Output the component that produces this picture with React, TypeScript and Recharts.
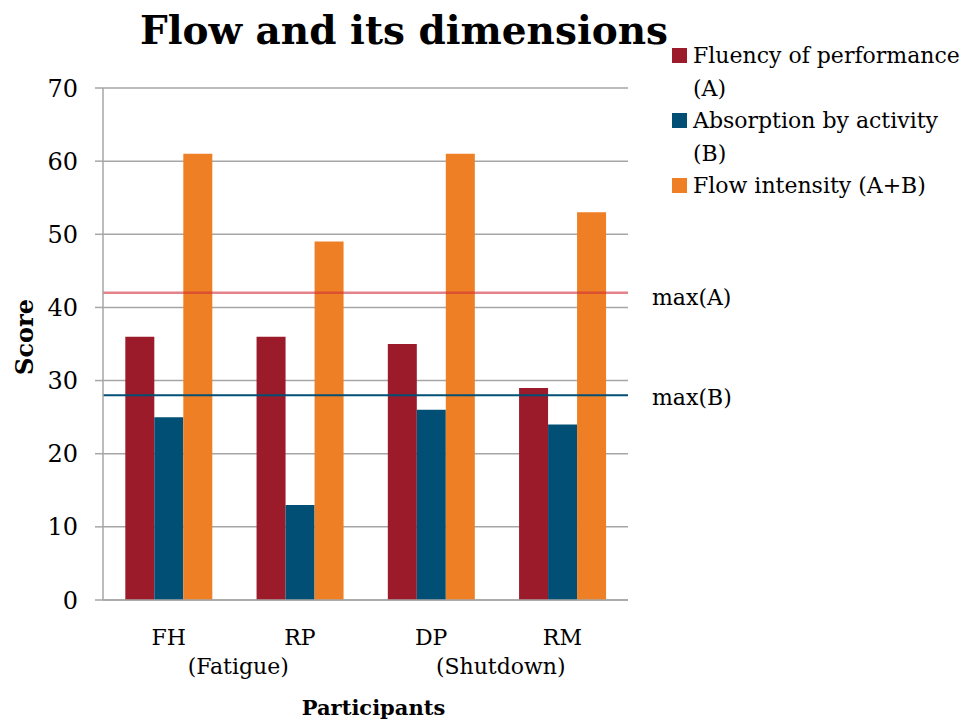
import React from 'react';
import { BarChart, Bar, XAxis, YAxis, CartesianGrid, ReferenceLine } from 'recharts';

const categories = ['FH', 'RP', 'DP', 'RM'];
const subLabels = ['(Fatigue)', '', '(Shutdown)', ''];
const fluency = [36, 36, 35, 29];
const absorption = [25, 13, 26, 24];
const flowIntensity = [61, 49, 61, 53];
const yTicks = [0, 10, 20, 30, 40, 50, 60, 70];
const maxA = 42;
const maxB = 28;

const seriesNames = ['Fluency of performance (A)', 'Absorption by activity (B)', 'Flow intensity (A+B)'];
const legendLines = [
  ['Fluency of performance', '(A)'],
  ['Absorption by activity', '(B)'],
  ['Flow intensity (A+B)'],
];
const colors = ['#9B1B2A', '#024F75', '#EE7F24'];

const data = categories.map((c, i) => ({
  name: c,
  sub: subLabels[i],
  A: fluency[i],
  B: absorption[i],
  AB: flowIntensity[i],
}));

const FONT = '"DejaVu Serif", serif';
const W = 965;
const H = 724;
const LEFT = 103;
const RIGHT = 628;
const HALF_BAND = (RIGHT - LEFT) / categories.length / 2;

const XTick = (props: any) => {
  const { x, y, payload, index } = props;
  const sub = subLabels[index];
  return (
    <g>
      <text x={x} y={y + 37} textAnchor="middle" fontFamily={FONT} fontSize={22} fill="#000">
        {payload.value}
      </text>
      {sub ? (
        <text x={x + HALF_BAND + 4} y={y + 66} textAnchor="middle" fontFamily={FONT} fontSize={22} fill="#000">
          {sub}
        </text>
      ) : null}
    </g>
  );
};

export default function App() {
  return (
    <div style={{ position: 'absolute', left: 0, top: 0, width: W, height: H, background: '#fff' }}>
      <div
        style={{
          position: 'absolute',
          left: 0,
          top: 5,
          width: 808,
          textAlign: 'center',
          fontFamily: FONT,
          fontWeight: 'bold',
          fontSize: 39,
          lineHeight: '50px',
          color: '#000',
        }}
      >
        Flow and its dimensions
      </div>
      <BarChart
        width={W}
        height={H}
        data={data}
        margin={{ top: 88, right: W - RIGHT, bottom: 0, left: 0 }}
        barCategoryGap="17%"
        barGap={0}
      >
        <CartesianGrid vertical={false} stroke="#A6A6A6" strokeWidth={1.5} />
        <XAxis
          dataKey="name"
          height={124}
          tickLine={false}
          axisLine={{ stroke: '#A6A6A6', strokeWidth: 1.5 }}
          tick={<XTick />}
          interval={0}
          label={({ viewBox }: any) => (
            <text
              x={viewBox.x + viewBox.width / 2 + 8}
              y={715}
              textAnchor="middle"
              fontFamily={FONT}
              fontWeight="bold"
              fontSize={21}
              fill="#000"
            >
              Participants
            </text>
          )}
        />
        <YAxis
          width={LEFT}
          domain={[0, 70]}
          ticks={yTicks}
          interval={0}
          tickSize={8}
          tickMargin={17}
          tickLine={{ stroke: '#A6A6A6', strokeWidth: 1.5 }}
          axisLine={{ stroke: '#A6A6A6', strokeWidth: 1.5 }}
          tick={{ fontFamily: FONT, fontSize: 24, fill: '#000' }}
          label={() => (
            <text
              x={24}
              y={337}
              transform="rotate(-90 24 337)"
              textAnchor="middle"
              dominantBaseline="central"
              fontFamily={FONT}
              fontWeight="bold"
              fontSize={24}
              fill="#000"
            >
              Score
            </text>
          )}
        />
        <Bar dataKey="A" name={seriesNames[0]} fill={colors[0]} isAnimationActive={false} />
        <Bar dataKey="B" name={seriesNames[1]} fill={colors[1]} isAnimationActive={false} />
        <Bar dataKey="AB" name={seriesNames[2]} fill={colors[2]} isAnimationActive={false} />
        <ReferenceLine
          y={maxA}
          stroke="#D0303C"
          strokeOpacity={0.6}
          strokeWidth={2.5}
          label={{ value: 'max(A)', position: 'right', offset: 24, dy: 4, fontFamily: FONT, fontSize: 22, fill: '#000' }}
        />
        <ReferenceLine
          y={maxB}
          stroke="#024F75"
          strokeWidth={2}
          label={{ value: 'max(B)', position: 'right', offset: 24, dy: 2, fontFamily: FONT, fontSize: 22, fill: '#000' }}
        />
      </BarChart>
      <div style={{ position: 'absolute', left: 672, top: 40, fontFamily: FONT, fontSize: 22, color: '#000' }}>
        {legendLines.map((lines, i) => (
          <div key={i} style={{ position: 'relative', height: lines.length * 32.5, lineHeight: '32.5px' }}>
            <div
              style={{
                position: 'absolute',
                left: 0,
                top: 8,
                width: 15,
                height: 15,
                background: colors[i],
              }}
            />
            <div style={{ marginLeft: 21, whiteSpace: 'nowrap' }}>
              {lines.map((l, j) => (
                <div key={j}>{l}</div>
              ))}
            </div>
          </div>
        ))}
      </div>
    </div>
  );
}
